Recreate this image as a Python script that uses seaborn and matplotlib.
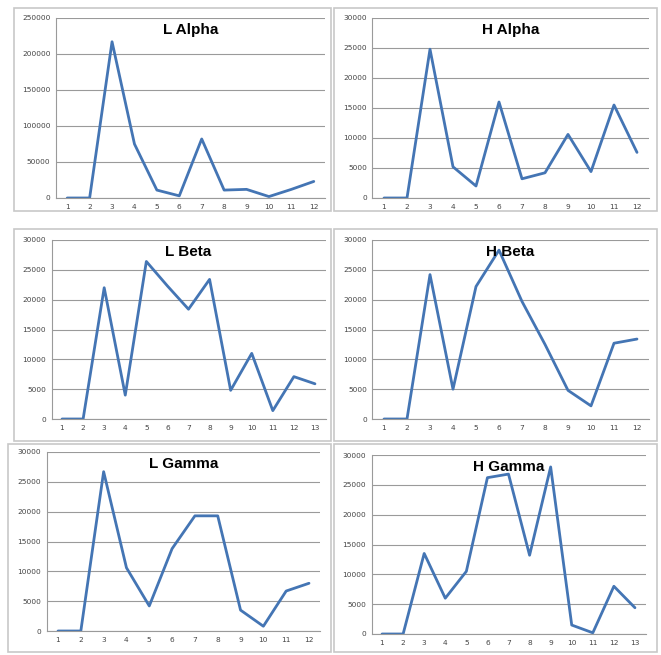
import numpy as np
import pandas as pd
import matplotlib
matplotlib.use("Agg")
import matplotlib.pyplot as plt
from matplotlib.patches import Rectangle
import seaborn as sns

# values
l_alpha = [0, 0, 217000, 75000, 11000, 3000, 82000, 11000, 12000, 2000, 12000, 23000]
h_alpha = [0, 0, 24800, 5200, 2000, 16000, 3200, 4200, 10600, 4400, 15500, 7600]
l_beta = [0, 0, 22000, 4000, 26400, 22300, 18400, 23400, 4800, 11000, 1400, 7100, 5900]
h_beta = [0, 0, 24200, 5000, 22200, 28300, 19700, 12500, 4800, 2200, 12700, 13400]
l_gamma = [0, 0, 26700, 10600, 4200, 13800, 19300, 19300, 3500, 800, 6700, 8000]
h_gamma = [0, 0, 13500, 6000, 10500, 26200, 26800, 13200, 28000, 1500, 200, 8000, 4400]

titles = ["L Alpha", "H Alpha", "L Beta", "H Beta", "L Gamma", "H Gamma"]
series = [l_alpha, h_alpha, l_beta, h_beta, l_gamma, h_gamma]
ymax = [250000, 30000, 30000, 30000, 30000, 30000]
ystep = [50000, 5000, 5000, 5000, 5000, 5000]

W, H = 661, 655
# plot area in pixels: left, right, top, bottom
boxes = [(56, 325, 18, 198), (372.5, 648.5, 18, 198),
         (51.5, 325.5, 240, 419), (372.5, 648.5, 240, 419),
         (46.6, 320.4, 452, 631), (371.5, 645.5, 455, 634)]
# outer chart frames in pixels
frames = [(14, 331, 8, 211), (334, 657, 8, 211),
          (14, 331, 229, 441), (334, 657, 229, 441),
          (8, 331, 444, 652), (334, 657, 444, 652)]

sns.set_style("white")
fig = plt.figure(figsize=(W / 100, H / 100), dpi=100)
fig.patch.set_facecolor("white")

for (fx0, fx1, fy0, fy1) in frames:
    fig.patches.append(Rectangle((fx0 / W, 1 - fy1 / H), (fx1 - fx0) / W, (fy1 - fy0) / H,
                                 transform=fig.transFigure, fill=False,
                                 edgecolor="#c8c8c8", linewidth=1.2))

for title, vals, top, step, (x0, x1, y0, y1) in zip(titles, series, ymax, ystep, boxes):
    ax = fig.add_axes([x0 / W, 1 - y1 / H, (x1 - x0) / W, (y1 - y0) / H])
    df = pd.DataFrame({"x": np.arange(1, len(vals) + 1), "y": vals})
    sns.lineplot(data=df, x="x", y="y", ax=ax, color="#4475b4", linewidth=2)
    ax.set_xlim(0.5, len(vals) + 0.5)
    ax.set_ylim(0, top)
    ax.set_yticks(np.arange(0, top + 1, step))
    ax.set_xticks(df["x"])
    ax.set_xticklabels([str(i) for i in df["x"]])
    ax.tick_params(axis="both", labelsize=5.3, length=0, pad=4, colors="#444444")
    ax.grid(axis="y", color="#9a9a9a", linewidth=0.8)
    ax.set_axisbelow(True)
    for s in ["top", "right"]:
        ax.spines[s].set_visible(False)
    ax.spines["left"].set_color("#9a9a9a")
    ax.spines["bottom"].set_color("#9a9a9a")
    ax.set_xlabel("")
    ax.set_ylabel("")
    ax.text(0.5, 0.97, title, transform=ax.transAxes, ha="center", va="top",
            fontsize=11, fontweight="bold", family="Liberation Sans", color="black")

fig.savefig("out.png", dpi=100)
